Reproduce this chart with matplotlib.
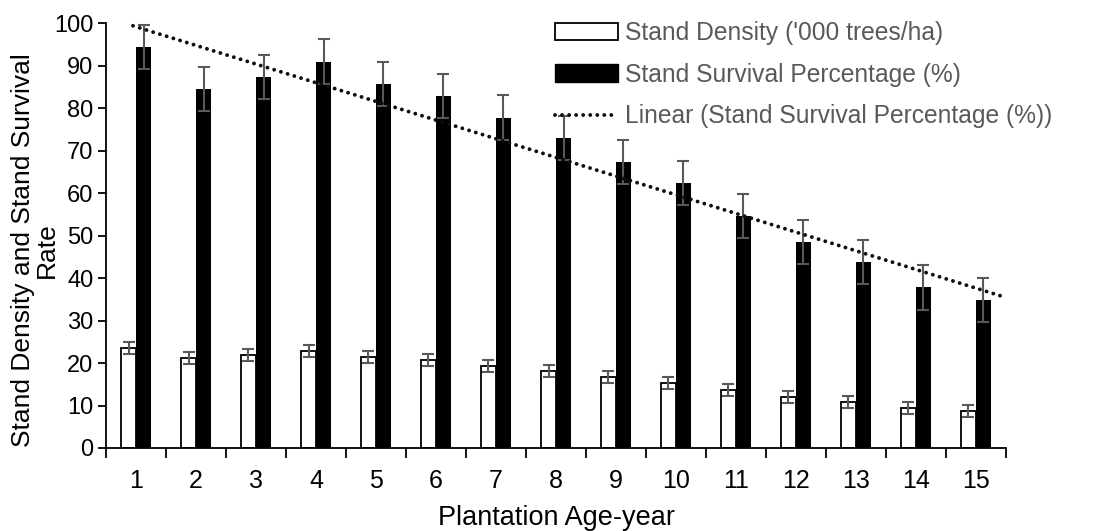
import numpy as np
import matplotlib
matplotlib.use("Agg")
import matplotlib.pyplot as plt
from matplotlib.patches import Patch
from matplotlib.lines import Line2D

plt.rcParams['font.family'] = ['Liberation Sans', 'DejaVu Sans']

# plantation age (years)
age = np.arange(1, 16)
# stand density ('000 trees/ha) and its error
density = [23.6, 21.1, 21.8, 22.8, 21.4, 20.7, 19.4, 18.2, 16.7, 15.3, 13.7, 12.1, 10.8, 9.4, 8.7]
density_err = [1.4] * 15
# stand survival percentage and its error
survival = [94.5, 84.6, 87.4, 91.0, 85.8, 82.9, 77.8, 72.9, 67.3, 62.4, 54.6, 48.5, 43.8, 37.8, 34.9]
survival_err = [5.2] * 15

W, H = 1106, 531
fig = plt.figure(figsize=(W / 100, H / 100), dpi=100)
ax = fig.add_axes([106 / W, 83 / H, 900 / W, 424.7 / H])

bw = 0.25
ecol = '#595959'
ax.bar(age - bw / 2, density, bw, color='white', edgecolor='black', linewidth=1.3,
       yerr=density_err, error_kw=dict(ecolor=ecol, elinewidth=1.5, capsize=4.3, capthick=1.5),
       zorder=2)
ax.bar(age + bw / 2, survival, bw, color='black', edgecolor='black', linewidth=0,
       yerr=survival_err, error_kw=dict(ecolor=ecol, elinewidth=1.5, capsize=4.3, capthick=1.5),
       zorder=2)

# linear trendline of survival
m, c = np.polyfit(age, survival, 1)
tx = np.array([0.95, 15.45])
dots = (0, (0.01, 1.8))
ax.plot(tx, m * tx + c, linestyle=dots, color='#1a0a00', linewidth=2.8,
        dash_capstyle='round', zorder=3)

ax.set_xlim(0.5, 15.5)
ax.set_ylim(0, 100)
ax.set_yticks(np.arange(0, 101, 10))
ax.set_xticks(np.arange(0.5, 15.6, 1))
ax.set_xticklabels([])
ax.set_xticks(age, minor=True)
ax.set_xticklabels([str(a) for a in age], minor=True)
ax.tick_params(axis='x', which='major', length=7, width=1.3, color='black')
ax.tick_params(axis='x', which='minor', length=0, pad=15, labelsize=18)
ax.tick_params(axis='y', length=6, width=1.3, labelsize=17, pad=3)

for s in ['top', 'right']:
    ax.spines[s].set_visible(False)
for s in ['left', 'bottom']:
    ax.spines[s].set_linewidth(1.3)
    ax.spines[s].set_color('black')

fig.text(35 / W, 1 - 250 / H, 'Stand Density and Stand Survival\nRate', rotation=90,
         ha='center', va='center', multialignment='center', fontsize=19, linespacing=0.95)
fig.text(556 / W, 1 - 518 / H, 'Plantation Age-year', ha='center', va='center', fontsize=19.5)

handles = [
    Patch(facecolor='white', edgecolor='black', linewidth=1.3),
    Patch(facecolor='black', edgecolor='black'),
    Line2D([0], [0], linestyle=dots, color='#1a0a00', linewidth=2.8, dash_capstyle='round'),
]
labels = ["Stand Density ('000 trees/ha)", 'Stand Survival Percentage (%)',
          'Linear (Stand Survival Percentage (%))']
leg = fig.legend(handles, labels, loc='upper left', bbox_to_anchor=(555 / W, 1 - 21 / H),
                 frameon=False, fontsize=17.7, handlelength=2.56, handletextpad=0.3,
                 labelspacing=0.72, borderpad=0, borderaxespad=0)
for t in leg.get_texts():
    t.set_color('#595959')

fig.savefig('out.png', dpi=100)
